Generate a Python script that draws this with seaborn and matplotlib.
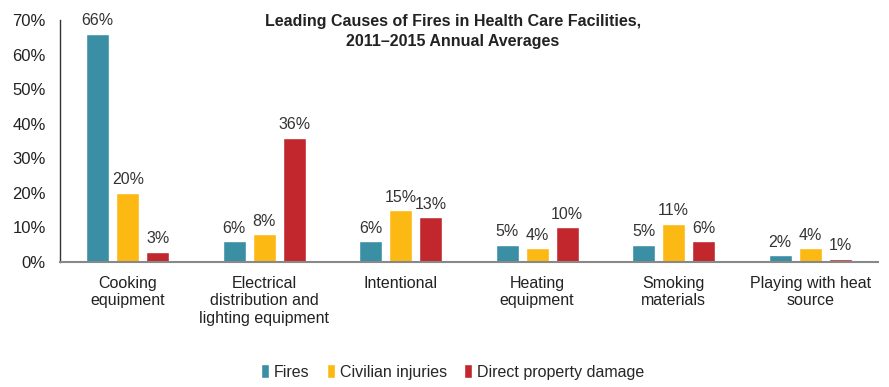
import pandas as pd
import matplotlib.pyplot as plt
import seaborn as sns
from matplotlib.ticker import PercentFormatter

# ─── Данные ─────────────────────────────────────────────────────────────────────
causes = [
    "Cooking\nequipment",
    "Electrical\ndistribution and\nlighting equipment",
    "Intentional",
    "Heating\nequipment",
    "Smoking\nmaterials",
    "Playing with heat\nsource",
]
series = ["Fires", "Civilian injuries", "Direct property damage"]
fires = [66, 6, 6, 5, 5, 2]
injuries = [20, 8, 15, 4, 11, 4]
damage = [3, 36, 13, 10, 6, 1]
colors = ["#3A8FA5", "#FDB913", "#C1272D"]

df = pd.DataFrame({
    "cause": causes * 3,
    "series": [s for s in series for _ in causes],
    "value": fires + injuries + damage,
})

sns.set_style("white")
plt.rcParams["font.family"] = ["Liberation Sans", "DejaVu Sans"]

fig = plt.figure(figsize=(8.89, 3.87), dpi=100)
ax = fig.add_axes([0.067, 0.323, 0.921, 0.625])

sns.barplot(data=df, x="cause", y="value", hue="series", palette=colors,
            saturation=1, width=0.66, gap=0.23, ax=ax, legend=True)

for c in ax.containers:
    ax.bar_label(c, labels=[f"{v:.0f}%" for v in c.datavalues], padding=4,
                 fontsize=11.5, color="#333333")

ax.set_ylim(0, 70)
ax.set_xlim(-0.5, 5.5)
ax.set_yticks(range(0, 71, 10))
ax.yaxis.set_major_formatter(PercentFormatter(decimals=0))
ax.tick_params(axis="y", labelsize=12, colors="#222222", pad=10, length=0)
ax.tick_params(axis="x", labelsize=11.5, colors="#222222", pad=10, length=0)
ax.set_xlabel("")
ax.set_ylabel("")
for s in ["top", "right"]:
    ax.spines[s].set_visible(False)
ax.spines["left"].set_color("#333333")
ax.spines["bottom"].set_color("#888888")
ax.spines["left"].set_linewidth(1.0)
ax.spines["bottom"].set_linewidth(1.5)

ax.text(0.48, 1.025, "Leading Causes of Fires in Health Care Facilities,\n2011\u20132015 Annual Averages",
        transform=ax.transAxes, ha="center", va="top", fontsize=11.5,
        fontweight="bold", color="#222222", linespacing=1.4)

ax.legend(loc="center", bbox_to_anchor=(0.48, -0.455), ncol=3, frameon=False,
          fontsize=11.5, handlelength=0.5, handleheight=0.9, handletextpad=0.3,
          columnspacing=1.1)

plt.savefig("out.png", dpi=100)
plt.close()
